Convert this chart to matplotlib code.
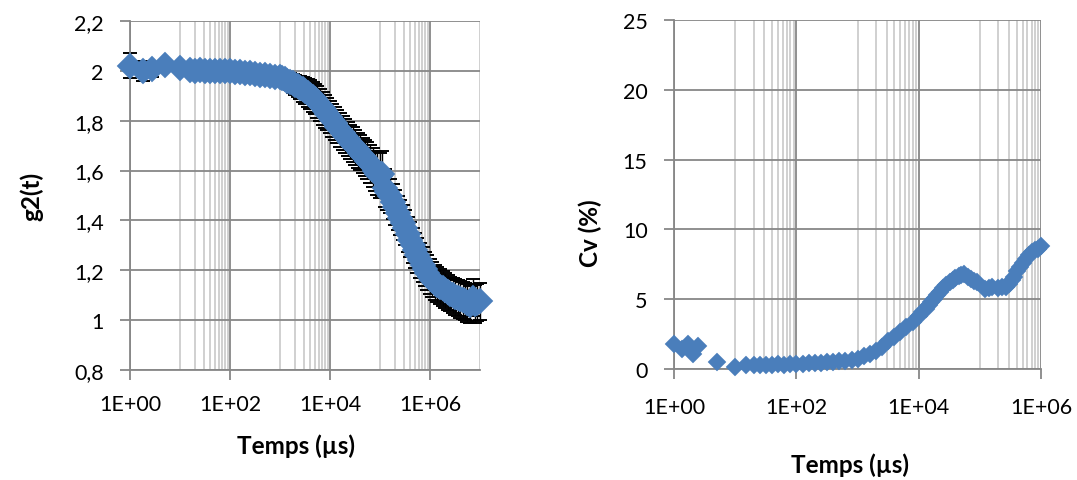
import matplotlib
matplotlib.use('Agg')
import matplotlib.pyplot as plt
from matplotlib.ticker import FixedLocator, FuncFormatter, NullFormatter

plt.rcParams['font.family'] = ['Lato', 'DejaVu Sans']

# ---------------- data: left panel g2(t) ----------------
t_g2 = [1, 1.8, 2.7, 5, 10, 16, 20, 25, 32, 40, 50, 63, 80,
        100, 126, 158, 200, 251, 316, 398, 501, 631, 794,
        1000, 1120, 1260, 1410, 1580, 1780, 2000, 2240, 2510, 2820,
        3160, 3550, 3980, 4470, 5010, 5620, 6310, 7080, 7940, 8910,
        10000, 11200, 12600, 14100, 15800, 17800, 20000, 22400, 25100, 28200,
        31600, 35500, 39800, 44700, 50100, 56200, 63100, 70800, 79400, 89100,
        100000, 112000, 126000, 141000, 158000, 178000, 200000, 224000, 251000,
        282000, 316000, 355000, 398000, 447000, 501000, 562000, 631000, 708000,
        794000, 891000, 1000000, 1120000, 1260000, 1410000, 1580000, 1780000,
        2000000, 2240000, 2510000, 2820000, 3160000, 3550000, 3980000, 4470000,
        5010000, 5620000, 6310000, 7080000, 7940000, 8910000, 10000000]
g2 = [2.02, 2.0, 2.007, 2.023, 2.01, 2.005, 2.0, 2.002, 2.0, 2.001, 2.0, 2.0,
      1.999,
      1.998, 1.996, 1.995, 1.993, 1.990, 1.988, 1.985, 1.982, 1.979, 1.977,
      1.975, 1.971, 1.966, 1.961, 1.956, 1.950, 1.944, 1.938, 1.932, 1.926,
      1.919, 1.912, 1.904, 1.896, 1.887, 1.875, 1.862, 1.849, 1.837, 1.826,
      1.815, 1.802, 1.789, 1.776, 1.763, 1.750, 1.738, 1.726, 1.715, 1.704,
      1.693, 1.682, 1.671, 1.660, 1.650, 1.640, 1.627, 1.614, 1.600, 1.588,
      1.580, 1.588, 1.530, 1.515, 1.498, 1.475, 1.452, 1.430, 1.410,
      1.390, 1.370, 1.345, 1.322, 1.300, 1.280, 1.260, 1.240, 1.222,
      1.205, 1.190, 1.175, 1.162, 1.150, 1.142, 1.134, 1.127,
      1.120, 1.112, 1.105, 1.099, 1.093, 1.088, 1.083, 1.079,
      1.075, 1.068, 1.062, 1.090, 1.065, 1.070, 1.075]
g2_err = [0.05, 0.04, 0.03, 0.01, 0.006, 0.005, 0.005, 0.005, 0.005, 0.005,
          0.005, 0.005, 0.005,
          0.006, 0.007, 0.008, 0.009, 0.01, 0.012, 0.014, 0.016, 0.018, 0.02,
          0.022, 0.025, 0.028, 0.031, 0.034, 0.037, 0.04, 0.043, 0.046, 0.049,
          0.052, 0.055, 0.058, 0.06, 0.062, 0.063, 0.064, 0.065, 0.065, 0.065,
          0.066, 0.066, 0.066, 0.067, 0.067, 0.067, 0.068, 0.068, 0.068, 0.069,
          0.069, 0.07, 0.07, 0.071, 0.072, 0.073, 0.075, 0.078, 0.08, 0.085,
          0.09, 0.09, 0.075, 0.072, 0.07, 0.07, 0.07, 0.07, 0.07,
          0.07, 0.07, 0.07, 0.07, 0.07, 0.07, 0.07, 0.07, 0.07,
          0.07, 0.07, 0.07, 0.07, 0.07, 0.07, 0.07, 0.07,
          0.07, 0.07, 0.07, 0.072, 0.072, 0.072, 0.074, 0.074,
          0.075, 0.075, 0.075, 0.075, 0.075, 0.075, 0.075]

# ---------------- data: right panel Cv (%) ----------------
t_cv = [1, 1.35, 1.7, 2.05, 2.5, 5, 10, 15, 20, 25, 32, 40, 50, 63, 80, 100,
        130, 160, 200, 250, 320, 400, 500, 630, 800, 1000, 1300, 1600, 2000,
        2500, 3200, 4000, 5000, 6300, 8000, 10000, 11500, 13000, 14500, 16000,
        18000, 20000, 22500, 25000, 28000, 32000, 36000, 40000, 45000, 50000,
        56000, 63000, 71000, 80000, 90000, 120000, 140000, 160000, 200000,
        230000, 270000, 300000, 330000, 360000, 400000, 450000, 500000, 560000,
        630000, 710000, 800000, 900000, 1000000]
cv = [1.8, 1.45, 1.8, 1.1, 1.65, 0.5, 0.15, 0.32, 0.28, 0.3, 0.3, 0.32, 0.33,
      0.3, 0.35, 0.35, 0.37, 0.4, 0.42, 0.45, 0.48, 0.5, 0.55, 0.6, 0.67, 0.75,
      0.9, 1.05, 1.3, 1.6, 2.0, 2.3, 2.65, 3.0, 3.4, 3.8, 4.05, 4.3, 4.55, 4.8,
      5.05, 5.3, 5.55, 5.8, 6.0, 6.2, 6.35, 6.5, 6.65, 6.75, 6.8, 6.6, 6.45,
      6.3, 6.2, 5.7, 5.8, 5.85, 5.8, 5.85, 5.9, 6.1, 6.4, 6.6, 7.0, 7.3, 7.6,
      7.9, 8.2, 8.35, 8.5, 8.6, 8.8]

g2_ticks = [0.8, 1.0, 1.2, 1.4, 1.6, 1.8, 2.0, 2.2]
cv_ticks = [0, 5, 10, 15, 20, 25]
x_major = [1, 1e2, 1e4, 1e6]
x_minor_subs = [10, 20, 30, 40, 50, 60, 70, 80, 90]

BLUE = '#4A7EBB'
MAJ = '#878787'
MIN = '#C3C3C3'
W, H = 1077, 481


def fmt_y(v, pos):
    return ('%g' % round(v, 1)).replace('.', ',')


def fmt_x(v, pos):
    return '%.0E' % v


def style(ax, xmax, yticks, ylo, yhi, xpad):
    ax.set_xscale('log')
    ax.set_xlim(1, xmax)
    ax.set_ylim(ylo, yhi)
    minors = [s * m for m in [1, 1e2, 1e4, 1e6] for s in x_minor_subs]
    ax.xaxis.set_major_locator(FixedLocator(x_major))
    ax.xaxis.set_minor_locator(FixedLocator([v for v in minors if v <= xmax]))
    ax.xaxis.set_major_formatter(FuncFormatter(fmt_x))
    ax.xaxis.set_minor_formatter(NullFormatter())
    ax.yaxis.set_major_locator(FixedLocator(yticks))
    ax.yaxis.set_major_formatter(FuncFormatter(fmt_y))
    ax.set_axisbelow(True)
    ax.grid(which='major', color=MAJ, lw=1.3)
    ax.grid(which='minor', axis='x', color=MIN, lw=1.1)
    for s in ['top', 'right']:
        ax.spines[s].set_visible(False)
    for s in ['left', 'bottom']:
        ax.spines[s].set_color(MAJ)
        ax.spines[s].set_linewidth(1.3)
    ax.tick_params(which='major', direction='out', length=7, width=1.3,
                   color=MAJ, labelsize=15.5, labelcolor='black')
    ax.tick_params(which='major', axis='x', pad=xpad)
    ax.tick_params(which='major', axis='y', pad=12)
    ax.tick_params(which='minor', length=0)


fig = plt.figure(figsize=(W / 100, H / 100), dpi=100)
ax1 = fig.add_axes([130 / W, 1 - 371 / H, 350 / W, 349 / H])
ax2 = fig.add_axes([674 / W, 1 - 370 / H, 367 / W, 349 / H])

# left panel
eb = ax1.errorbar(t_g2, g2, yerr=g2_err, fmt='none', ecolor='black',
                  elinewidth=1.0, capsize=5, capthick=1.4, zorder=2)
for art in eb.lines[1] + eb.lines[2]:
    art.set_clip_on(False)
ax1.plot(t_g2, g2, linestyle='none', marker='D', ms=13.5, color=BLUE,
         mec=BLUE, mew=0.3, zorder=3, clip_on=False)
style(ax1, 1e7, g2_ticks, 0.8, 2.2, 10)
ax1.set_xlabel('Temps (µs)', fontsize=17.5, fontweight='bold')
ax1.xaxis.set_label_coords((296 - 130) / 350, (371 - 446) / 349)
ax1.xaxis.label.set_va('center')
ax1.set_ylabel('g2(t)', fontsize=17.5, fontweight='bold')
ax1.yaxis.set_label_coords((32 - 130) / 350, (371 - 196) / 349)
ax1.yaxis.label.set_va('center')

# right panel
ax2.plot(t_cv, cv, linestyle='none', marker='D', ms=9, color=BLUE,
         mec=BLUE, mew=0.3, zorder=3, clip_on=False)
style(ax2, 1e6, cv_ticks, 0, 25, 13)
ax2.set_xlabel('Temps (µs)', fontsize=17.5, fontweight='bold')
ax2.xaxis.set_label_coords((850 - 674) / 367, (370 - 465) / 349)
ax2.xaxis.label.set_va('center')
ax2.set_ylabel('Cv (%)', fontsize=17.5, fontweight='bold')
ax2.yaxis.set_label_coords((590 - 674) / 367, (370 - 233) / 349)
ax2.yaxis.label.set_va('center')

fig.savefig('out.png', dpi=100)
